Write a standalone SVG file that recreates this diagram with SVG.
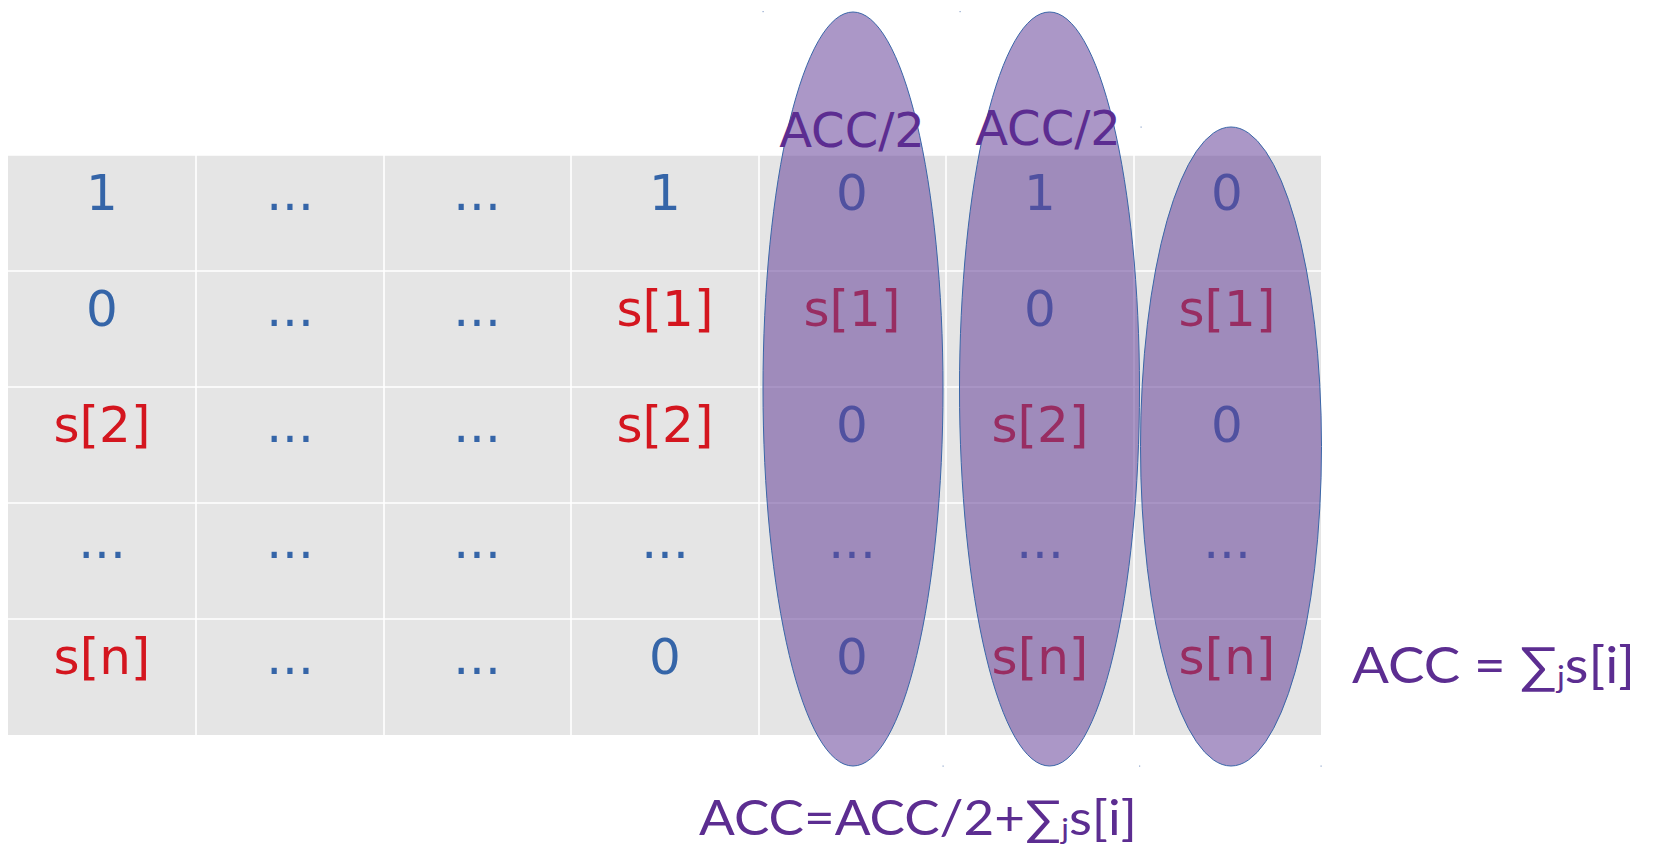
<svg xmlns="http://www.w3.org/2000/svg" width="1659" height="846" viewBox="0 0 1659 846">
<style>
.c{font-family:"DejaVu Sans",sans-serif;font-size:50px;text-anchor:middle}
.b{fill:#3565a8}
.r{fill:#d4161f}
.g{stroke:#ffffff;stroke-width:1.6}
.el{fill:#664299;fill-opacity:0.55;stroke:#3a66a8;stroke-width:1}
.lab{font-family:"DejaVu Sans",sans-serif;font-size:48px;text-anchor:middle;fill:#5c2d91}
.f{font-family:Lato,"Liberation Sans",sans-serif;fill:#5c2d91}
.dot{fill:#8fa6cc}
</style>
<rect width="1659" height="846" fill="#ffffff"/>
<g id="table">
<rect x="8" y="155" width="1313" height="580" fill="#e5e5e5"/>
<line class="g" x1="8" y1="155" x2="1321" y2="155"/>
<line class="g" x1="8" y1="271" x2="1321" y2="271"/>
<line class="g" x1="8" y1="387" x2="1321" y2="387"/>
<line class="g" x1="8" y1="503" x2="1321" y2="503"/>
<line class="g" x1="8" y1="619" x2="1321" y2="619"/>
<line class="g" x1="196" y1="155" x2="196" y2="735"/>
<line class="g" x1="384" y1="155" x2="384" y2="735"/>
<line class="g" x1="571" y1="155" x2="571" y2="735"/>
<line class="g" x1="759" y1="155" x2="759" y2="735"/>
<line class="g" x1="946" y1="155" x2="946" y2="735"/>
<line class="g" x1="1134" y1="155" x2="1134" y2="735"/>
</g>
<g id="cells">
<text class="c b" x="102" y="210">1</text>
<text class="c b" x="290" y="210">...</text>
<text class="c b" x="477" y="210">...</text>
<text class="c b" x="665" y="210">1</text>
<text class="c b" x="852" y="210">0</text>
<text class="c b" x="1040" y="210">1</text>
<text class="c b" x="1227" y="210">0</text>

<text class="c b" x="102" y="326">0</text>
<text class="c b" x="290" y="326">...</text>
<text class="c b" x="477" y="326">...</text>
<text class="c r" x="665" y="326">s[1]</text>
<text class="c r" x="852" y="326">s[1]</text>
<text class="c b" x="1040" y="326">0</text>
<text class="c r" x="1227" y="326">s[1]</text>

<text class="c r" x="102" y="442">s[2]</text>
<text class="c b" x="290" y="442">...</text>
<text class="c b" x="477" y="442">...</text>
<text class="c r" x="665" y="442">s[2]</text>
<text class="c b" x="852" y="442">0</text>
<text class="c r" x="1040" y="442">s[2]</text>
<text class="c b" x="1227" y="442">0</text>

<text class="c b" x="102" y="558">...</text>
<text class="c b" x="290" y="558">...</text>
<text class="c b" x="477" y="558">...</text>
<text class="c b" x="665" y="558">...</text>
<text class="c b" x="852" y="558">...</text>
<text class="c b" x="1040" y="558">...</text>
<text class="c b" x="1227" y="558">...</text>

<text class="c r" x="102" y="674">s[n]</text>
<text class="c b" x="290" y="674">...</text>
<text class="c b" x="477" y="674">...</text>
<text class="c b" x="665" y="674">0</text>
<text class="c b" x="852" y="674">0</text>
<text class="c r" x="1040" y="674">s[n]</text>
<text class="c r" x="1227" y="674">s[n]</text>
</g>
<g id="ellipse1">
<ellipse class="el" cx="853" cy="389" rx="90" ry="377"/>
<rect class="dot" x="762.5" y="11" width="1.2" height="1.2"/>
<rect class="dot" x="942.5" y="765.5" width="1.2" height="1.2"/>
</g>
<g id="ellipse2">
<ellipse class="el" cx="1049.5" cy="389" rx="90" ry="377"/>
<rect class="dot" x="959.5" y="11" width="1.2" height="1.2"/>
<rect class="dot" x="1139" y="765.5" width="1.2" height="1.2"/>
</g>
<g id="ellipse3">
<ellipse class="el" cx="1231" cy="446.5" rx="90.5" ry="319.5"/>
<rect class="dot" x="1140.5" y="126.5" width="1.2" height="1.2"/>
<rect class="dot" x="1320.5" y="765.5" width="1.2" height="1.2"/>
</g>
<g id="labels">
<text class="lab" x="852" y="147">ACC/2</text>
<text class="lab" x="1048" y="145">ACC/2</text>
</g>
<g id="formula-right">
<text class="f" x="1352" y="683" font-size="50" textLength="283" lengthAdjust="spacingAndGlyphs">ACC = ∑<tspan font-size="30" dy="5">j</tspan><tspan dy="-5">s[i]</tspan></text>
</g>
<g id="formula-bottom">
<text class="f" x="699" y="835" font-size="48" textLength="438" lengthAdjust="spacingAndGlyphs">ACC=ACC/2+∑<tspan font-size="29" dy="4">j</tspan><tspan dy="-4">s[i]</tspan></text>
</g>
<g id="connectors"/>
</svg>
